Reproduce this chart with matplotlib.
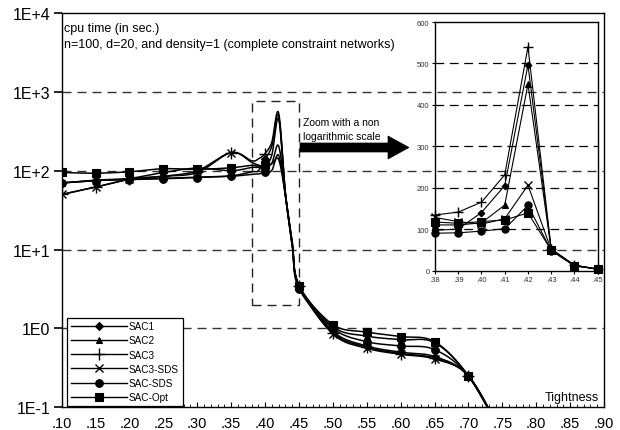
import numpy as np
import matplotlib
matplotlib.use('Agg')
import matplotlib.pyplot as plt
from matplotlib.lines import Line2D
from matplotlib.patches import Rectangle, Polygon

plt.rcParams['font.family'] = ['Liberation Sans', 'DejaVu Sans']

# ---------------- data ----------------
tightness = [.10, .15, .20, .25, .30, .35, .38, .39, .40, .41, .42, .43, .44, .45,
             .50, .55, .60, .65, .70, .75]
series_names = ['SAC1', 'SAC2', 'SAC3', 'SAC3-SDS', 'SAC-SDS', 'SAC-Opt']
sac1 = [70, 75, 78, 80, 83, 86, 97, 100, 140, 205, 496, 52, 12, 3.5,
        0.92, 0.60, 0.50, 0.44, 0.25, 0.045]
sac2 = [70, 76, 80, 95, 108, 100, 110, 110, 115, 158, 450, 50, 12, 3.5,
        1.05, 0.80, 0.72, 0.66, 0.25, 0.045]
sac3 = [50, 62, 78, 85, 95, 170, 134, 141, 165, 231, 540, 52, 13, 3.5,
        0.88, 0.58, 0.48, 0.42, 0.25, 0.045]
sac3_sds = [50, 62, 78, 85, 100, 170, 128, 118, 112, 125, 206, 50, 12, 3.5,
            0.85, 0.56, 0.47, 0.41, 0.25, 0.045]
sac_sds = [70, 75, 77, 79, 82, 85, 90, 91, 95, 101, 157, 48, 11, 3.2,
           1.0, 0.68, 0.60, 0.54, 0.25, 0.045]
sac_opt = [95, 93, 97, 106, 104, 109, 117, 114, 118, 122, 139, 49, 12, 3.5,
           1.12, 0.90, 0.79, 0.68, 0.25, 0.045]
all_series = [sac1, sac2, sac3, sac3_sds, sac_sds, sac_opt]

y_ticks = [0.1, 1, 10, 100, 1000, 10000]
y_tick_labels = ['1E-1', '1E0', '1E+1', '1E+2', '1E+3', '1E+4']
x_ticks = [.10, .15, .20, .25, .30, .35, .40, .45, .50, .55, .60, .65, .70, .75, .80, .85, .90]
x_tick_labels = ['.10', '.15', '.20', '.25', '.30', '.35', '.40', '.45', '.50', '.55',
                 '.60', '.65', '.70', '.75', '.80', '.85', '.90']
inset_x_ticks = [.38, .39, .40, .41, .42, .43, .44, .45]
inset_x_labels = ['.38', '.39', '.40', '.41', '.42', '.43', '.44', '.45']
inset_y_ticks = [0, 100, 200, 300, 400, 500, 600]

# marker styles
styles = [dict(marker='D', ms=3.6, mew=0.8),
          dict(marker='^', ms=5.0, mew=0.8),
          dict(marker='+', ms=8.0, mew=1.0),
          dict(marker='x', ms=6.0, mew=1.0),
          dict(marker='o', ms=5.5, mew=0.8),
          dict(marker='s', ms=5.5, mew=0.8)]

W, H = 620, 431


def smooth(xs, ys, sx=679.0, sy=78.9, n=24):
    X = np.asarray(xs, float) * sx
    Y = np.log10(np.asarray(ys, float)) * sy
    P = np.column_stack([X, Y])
    m = len(P)
    out = []
    for i in range(m - 1):
        p0 = P[i - 1] if i > 0 else P[i]
        p1, p2 = P[i], P[i + 1]
        p3 = P[i + 2] if i + 2 < m else P[i + 1]
        c1 = p1 + (p2 - p0) / 6.0
        c2 = p2 - (p3 - p1) / 6.0
        t = np.linspace(0, 1, n, endpoint=(i == m - 2))[:, None]
        B = ((1 - t) ** 3) * p1 + 3 * ((1 - t) ** 2) * t * c1 + 3 * (1 - t) * (t ** 2) * c2 + (t ** 3) * p2
        out.append(B)
    B = np.vstack(out)
    return B[:, 0] / sx, 10 ** (B[:, 1] / sy)


fig = plt.figure(figsize=(6.2, 4.31), dpi=100)
ax = fig.add_axes([61.7 / W, 1 - 408.3 / H, (604 - 61.7) / W, (408.3 - 14) / H])
ax.set_yscale('log')
ax.set_xlim(.10, .90)
ax.set_ylim(0.1, 1e4)

for yv in [1, 10, 100, 1000]:
    ax.axhline(yv, color='#333333', lw=1.0, ls=(0, (6.5, 4.3)), zorder=0.5)

mark_idx = [i for i, x in enumerate(tightness) if abs(round(x * 20) - x * 20) < 1e-6 and x <= .70]
for vals, st in zip(all_series, styles):
    sxs, sys_ = smooth(tightness, vals)
    ax.plot(sxs, sys_, color='black', lw=1.1, zorder=2)
    ax.plot([tightness[i] for i in mark_idx], [vals[i] for i in mark_idx], ls='none',
            color='black', mfc='black', mec='black', zorder=3, **st)

ax.set_yticks(y_ticks)
ax.set_yticklabels(y_tick_labels, fontsize=11.5)
ax.yaxis.set_minor_locator(matplotlib.ticker.NullLocator())
ax.set_xticks(x_ticks)
ax.set_xticklabels(x_tick_labels, fontsize=10.5)
ax.set_xticks(np.arange(.10, .905, .01), minor=True)
ax.tick_params(axis='y', which='major', direction='out', length=6, width=1.2, pad=2)
ax.tick_params(axis='x', which='major', direction='in', length=3.5, width=0.8, pad=6)
ax.tick_params(axis='x', which='minor', direction='in', length=2, width=0.6)
for s in ax.spines.values():
    s.set_linewidth(1.0)

# dashed zoom rectangle
ax.add_patch(Rectangle((.38, 2.0), .07, 760 - 2.0, fill=False, ec='#222222', lw=1.0,
                       ls=(0, (6.5, 4.3)), zorder=1))

# legend
handles = [Line2D([], [], color='black', lw=1.0, mfc='black', mec='black', **st) for st in styles]
leg = ax.legend(handles, series_names, loc='lower left', bbox_to_anchor=(0.0098, 0.004),
                fontsize=7.2, handlelength=5.6, handletextpad=0.25, labelspacing=0.42,
                borderpad=0.35, fancybox=False, framealpha=1, edgecolor='black',
                borderaxespad=0)
leg.get_frame().set_linewidth(0.9)
leg.set_zorder(5)

# texts
fig.text(64 / W, 1 - 29 / H, 'cpu time (in sec.)', fontsize=9, va='center', ha='left')
fig.text(64 / W, 1 - 45 / H, 'n=100, d=20, and density=1 (complete constraint networks)',
         fontsize=9, va='center', ha='left')
fig.text(599 / W, 1 - 398 / H, 'Tightness', fontsize=9, va='center', ha='right')
fig.text(303 / W, 1 - 123 / H, 'Zoom with a non', fontsize=7.5, va='center', ha='left')
fig.text(303 / W, 1 - 137 / H, 'logarithmic scale', fontsize=7.5, va='center', ha='left')

# arrow
arrow_px = [(300, 144), (388, 144), (388, 137), (409, 148.5), (388, 160), (388, 153), (300, 153)]
fig.patches.append(Polygon([(x / W, 1 - y / H) for x, y in arrow_px], closed=True,
                           transform=fig.transFigure, fc='black', ec='black', lw=0.5))

# inset
iax = fig.add_axes([435 / W, 1 - 271.5 / H, (597.7 - 435) / W, (271.5 - 23) / H])
iax.set_facecolor('none')
iax.set_xlim(.38, .45)
iax.set_ylim(0, 600)
for yv in [100, 200, 300, 400, 500]:
    iax.axhline(yv, color='black', lw=0.9, ls=(0, (7, 4.5)), zorder=0.5)
i0 = tightness.index(.38)
i1 = tightness.index(.45) + 1
for vals, st in zip(all_series, styles):
    ist = dict(st)
    ist['ms'] = st['ms'] * 0.95
    iax.plot(tightness[i0:i1], vals[i0:i1], color='black', lw=0.8, mfc='black', mec='black',
             zorder=2, clip_on=False, **ist)
iax.set_xticks(inset_x_ticks)
iax.set_xticklabels(inset_x_labels, fontsize=5.5, color='#333333')
iax.set_yticks(inset_y_ticks)
iax.set_yticklabels([str(v) for v in inset_y_ticks], fontsize=5.5, color='#333333')
iax.tick_params(direction='out', length=2.5, width=0.8, pad=1.5)
for s in iax.spines.values():
    s.set_linewidth(1.0)

fig.savefig('out.png', dpi=100)
